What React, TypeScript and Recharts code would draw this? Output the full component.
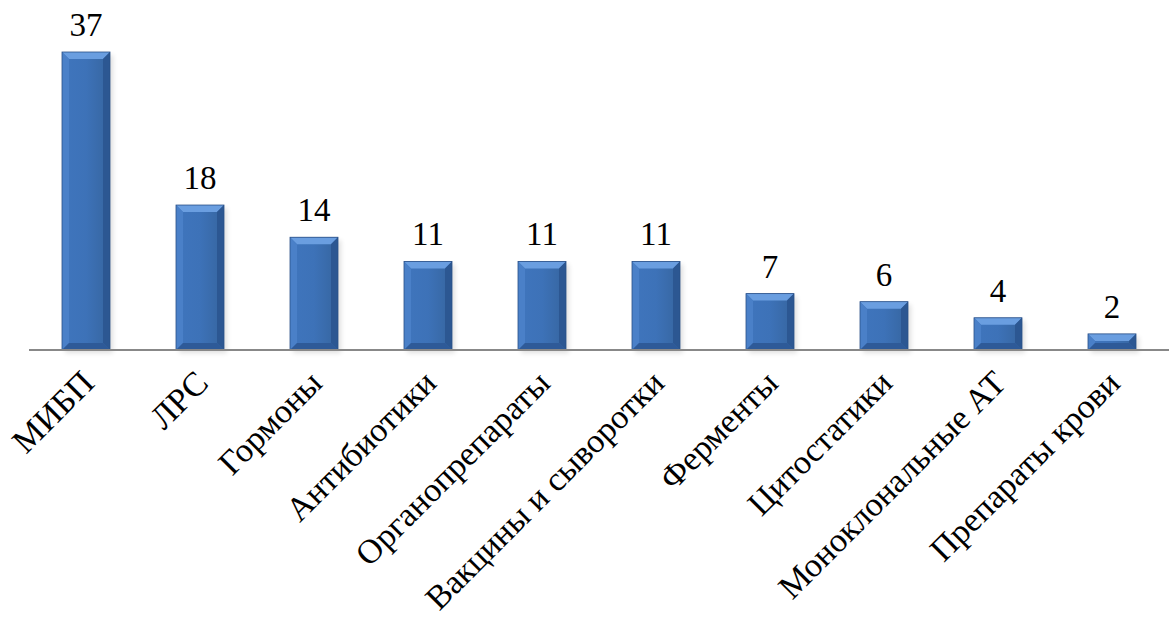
import React from "react";
import { BarChart, Bar, XAxis, YAxis, LabelList } from "recharts";

const categories = [
  "МИБП",
  "ЛРС",
  "Гормоны",
  "Антибиотики",
  "Органопрепараты",
  "Вакцины и сыворотки",
  "Ферменты",
  "Цитостатики",
  "Моноклональные АТ",
  "Препараты крови",
];
const values = [37, 18, 14, 11, 11, 11, 7, 6, 4, 2];

const data = categories.map((name, i) => ({ name, value: values[i] }));

const FONT = "Liberation Serif";

function BevelBar(props: any) {
  const { x, y, width, height } = props;
  if (!height || height <= 0) return null;
  const b = Math.min(7, height / 2);
  return (
    <g>
      <rect x={x + 3} y={y + 3} width={width} height={height} fill="#000" opacity={0.12} filter="url(#shadow)" />
      <rect x={x} y={y} width={width} height={height} fill="url(#barBody)" />
      <polygon points={`${x},${y} ${x + width},${y} ${x + width - b},${y + b} ${x + b},${y + b}`} fill="#6a9ee0" />
      <polygon points={`${x},${y} ${x + b},${y + b} ${x + b},${y + height - b} ${x},${y + height}`} fill="#4a80c8" />
      <polygon points={`${x + width},${y} ${x + width - b},${y + b} ${x + width - b},${y + height - b} ${x + width},${y + height}`} fill="#2c5792" />
      <polygon points={`${x},${y + height} ${x + b},${y + height - b} ${x + width - b},${y + height - b} ${x + width},${y + height}`} fill="#2e5a98" />
      <rect x={x} y={y} width={width} height={height} fill="none" stroke="#2a5088" strokeWidth={0.8} />
    </g>
  );
}

function AngledTick(props: any) {
  const { x, y, payload } = props;
  const tx = x + 10;
  const ty = y + 27;
  return (
    <g transform={`translate(${tx}, ${ty}) rotate(-45)`}>
      <text x={0} y={0} textAnchor="end" fontFamily={FONT} fontSize={34} fill="#000">
        {payload.value}
      </text>
    </g>
  );
}

function ValueLabel(props: any) {
  const { x, y, width, value } = props;
  return (
    <text x={x + width / 2} y={y - 16} textAnchor="middle" fontFamily={FONT} fontSize={33} fill="#000">
      {value}
    </text>
  );
}

export default function App() {
  return (
    <div style={{ position: "absolute", left: 0, top: 0, width: 1170, height: 625, background: "#fff" }}>
      <BarChart width={1170} height={625} data={data} margin={{ top: 52, right: 1, left: 29, bottom: 0 }} barCategoryGap={33}>
        <defs>
          <linearGradient id="barBody" x1="0" y1="0" x2="1" y2="0">
            <stop offset="0%" stopColor="#3f75bd" />
            <stop offset="50%" stopColor="#3d72b8" />
            <stop offset="100%" stopColor="#36659f" />
          </linearGradient>
          <filter id="shadow" x="-20%" y="-20%" width="140%" height="140%">
            <feGaussianBlur stdDeviation="2.5" />
          </filter>
        </defs>
        <XAxis
          dataKey="name"
          interval={0}
          height={275}
          tickLine={false}
          axisLine={{ stroke: "#888", strokeWidth: 2 }}
          tick={<AngledTick />}
        />
        <YAxis hide domain={[0, 37]} />
        <Bar dataKey="value" shape={<BevelBar />} isAnimationActive={false}>
          <LabelList dataKey="value" content={<ValueLabel />} />
        </Bar>
      </BarChart>
    </div>
  );
}
